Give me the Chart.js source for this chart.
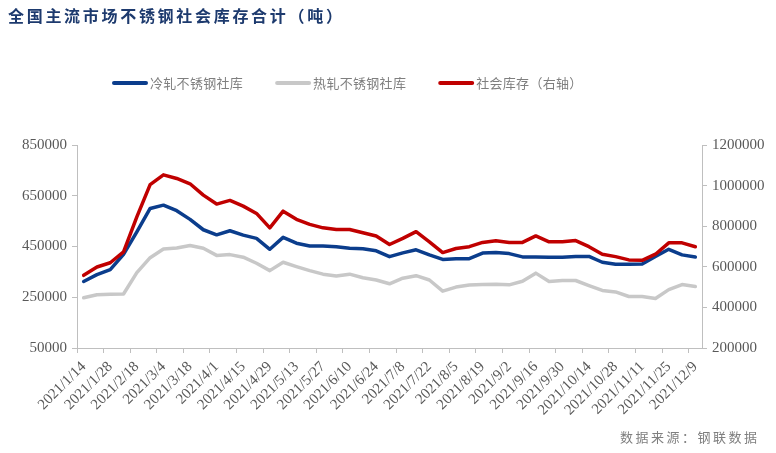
<!DOCTYPE html>
<html>
<head>
<meta charset="utf-8">
<script src="https://cdn.jsdelivr.net/npm/chart.js@4.4.1/dist/chart.umd.min.js"></script>
<style>
  html, body { margin: 0; padding: 0; background: #fff; }
  #wrap { width: 776px; height: 453px; position: relative; }
</style>
</head>
<body>
<div id="wrap"><canvas id="myChart"></canvas></div>
<script>
const titleText = '全国主流市场不锈钢社会库存合计（吨）';
const sourceText = '数据来源：钢联数据';
const seriesNames = ['冷轧不锈钢社库', '热轧不锈钢社库', '社会库存（右轴）'];

const dates = [
  '2021/1/14', '2021/1/21', '2021/1/28', '2021/2/4', '2021/2/18', '2021/2/25',
  '2021/3/4', '2021/3/11', '2021/3/18', '2021/3/25', '2021/4/1', '2021/4/8',
  '2021/4/15', '2021/4/22', '2021/4/29', '2021/5/6', '2021/5/13', '2021/5/20',
  '2021/5/27', '2021/6/3', '2021/6/10', '2021/6/17', '2021/6/24', '2021/7/1',
  '2021/7/8', '2021/7/15', '2021/7/22', '2021/7/29', '2021/8/5', '2021/8/12',
  '2021/8/19', '2021/8/26', '2021/9/2', '2021/9/9', '2021/9/16', '2021/9/23',
  '2021/9/30', '2021/10/8', '2021/10/14', '2021/10/21', '2021/10/28', '2021/11/4',
  '2021/11/11', '2021/11/18', '2021/11/25', '2021/12/2', '2021/12/9'
];

// 冷轧 (left axis)
const coldRolled = [
  312000, 339000, 359000, 419000, 508000, 600000, 613000, 591000, 557000, 516000,
  496000, 512000, 495000, 482000, 439000, 486000, 463000, 452000, 452000, 449000,
  443000, 441000, 433000, 410000, 425000, 437000, 417000, 399000, 402000, 402000,
  424000, 426000, 422000, 409000, 409000, 408000, 408000, 411000, 411000, 388000,
  380000, 380000, 381000, 411000, 439000, 417000, 409000
];

// 热轧 (left axis)
const hotRolled = [
  248000, 260000, 262000, 263000, 347000, 406000, 440000, 444000, 454000, 443000,
  415000, 418000, 408000, 384000, 355000, 388000, 371000, 355000, 341000, 334000,
  341000, 327000, 318000, 303000, 325000, 335000, 318000, 274000, 290000, 298000,
  300000, 301000, 299000, 313000, 345000, 312000, 316000, 316000, 296000, 277000,
  271000, 253000, 253000, 245000, 280000, 300000, 292000
];

// 社会库存 (right axis)
const socialStock = [
  558000, 599000, 620000, 673000, 846000, 1005000, 1053000, 1035000, 1009000, 953000,
  909000, 927000, 899000, 863000, 792000, 874000, 834000, 809000, 792000, 784000,
  784000, 768000, 752000, 710000, 740000, 773000, 723000, 670000, 690000, 699000,
  720000, 728000, 720000, 720000, 752000, 723000, 723000, 729000, 699000, 662000,
  650000, 634000, 632000, 662000, 718000, 718000, 699000
];

const leftRange = [50000, 850000, 200000];
const rightRange = [200000, 1200000, 200000];

const colors = ['#0b3d8c', '#c8c8c8', '#c00000'];
const axisGray = '#bfbfbf';
const tickColor = '#595959';
const serif = '"Liberation Serif", "DejaVu Serif", serif';
const cjk = '"Noto Sans CJK SC", sans-serif';

const decor = {
  id: 'decor',
  afterDraw(chart) {
    const ctx = chart.ctx;
    ctx.save();
    ctx.textBaseline = 'middle';
    ctx.textAlign = 'left';

    // title
    ctx.font = 'bold 16px ' + cjk;
    ctx.fillStyle = '#1d3a6e';
    [...titleText].forEach(function (ch, i) {
      ctx.fillText(ch, 8 + i * 18.7, 15.5);
    });

    // legend
    ctx.font = '13px ' + cjk;
    let x = 113;
    seriesNames.forEach(function (name, k) {
      ctx.strokeStyle = colors[k];
      ctx.lineWidth = 4;
      ctx.lineCap = 'round';
      ctx.beginPath();
      ctx.moveTo(x + 1, 83);
      ctx.lineTo(x + 33, 83);
      ctx.stroke();
      ctx.fillStyle = '#7f7f7f';
      const chars = [...name];
      chars.forEach(function (ch, i) {
        ctx.fillText(ch, x + 37 + i * 13.3, 83);
      });
      x = x + 37 + chars.length * 13.3 + 33;
    });

    // source
    ctx.fillStyle = '#7f7f7f';
    [...sourceText].forEach(function (ch, i) {
      ctx.fillText(ch, 620 + i * 15.5, 437);
    });
    ctx.restore();
  }
};

const ctx = document.getElementById('myChart');

new Chart(ctx, {
  type: 'line',
  data: {
    labels: dates,
    datasets: [
      { label: seriesNames[0], data: coldRolled, yAxisID: 'y', borderColor: colors[0], backgroundColor: colors[0], order: 1 },
      { label: seriesNames[1], data: hotRolled, yAxisID: 'y', borderColor: colors[1], backgroundColor: colors[1], order: 2 },
      { label: seriesNames[2], data: socialStock, yAxisID: 'y1', borderColor: colors[2], backgroundColor: colors[2], order: 0 }
    ]
  },
  options: {
    responsive: true,
    maintainAspectRatio: false,
    animation: false,
    layout: { padding: { top: 145, left: 0, right: 0, bottom: 0 } },
    elements: {
      line: { borderWidth: 3.5, tension: 0, borderCapStyle: 'round', borderJoinStyle: 'round' },
      point: { radius: 0, hoverRadius: 0 }
    },
    plugins: {
      legend: { display: false },
      title: { display: false },
      tooltip: { enabled: false }
    },
    scales: {
      x: {
        offset: true,
        afterFit: function (scale) { scale.height = 105; },
        border: { color: axisGray, width: 1 },
        grid: {
          offset: true,
          drawOnChartArea: false,
          tickLength: 5,
          color: function (c) { return c.index % 2 === 0 ? axisGray : 'rgba(0,0,0,0)'; }
        },
        ticks: {
          autoSkip: false,
          maxRotation: 45,
          minRotation: 45,
          padding: 5,
          color: tickColor,
          font: { family: serif, size: 15 },
          callback: function (v, i) { return i % 2 === 0 ? dates[i] : ''; }
        }
      },
      y: {
        position: 'left',
        min: leftRange[0],
        max: leftRange[1],
        afterFit: function (scale) { scale.width = 77; },
        border: { color: axisGray, width: 1 },
        grid: { drawOnChartArea: false, tickLength: 5, color: axisGray },
        ticks: {
          stepSize: leftRange[2], padding: 5, color: tickColor,
          font: { family: serif, size: 15 },
          callback: function (v) { return String(v); }
        }
      },
      y1: {
        position: 'right',
        min: rightRange[0],
        max: rightRange[1],
        afterFit: function (scale) { scale.width = 74; },
        border: { color: axisGray, width: 1 },
        grid: { drawOnChartArea: false, tickLength: 5, color: axisGray },
        ticks: {
          stepSize: rightRange[2], padding: 5, color: tickColor,
          font: { family: serif, size: 15 },
          callback: function (v) { return String(v); }
        }
      }
    }
  },
  plugins: [decor]
});
</script>
</body>
</html>
